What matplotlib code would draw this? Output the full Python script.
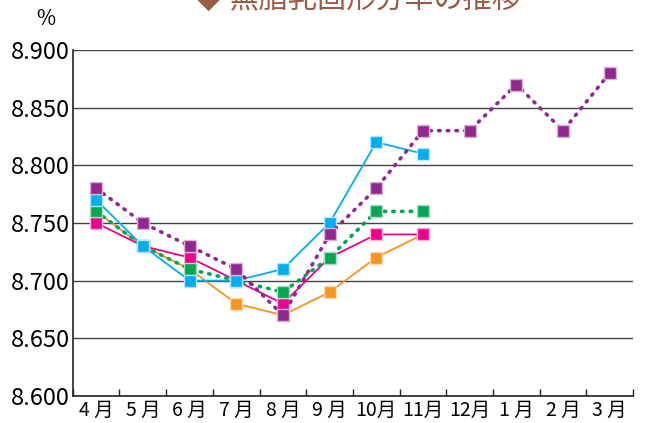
import matplotlib
matplotlib.use('Agg')
import matplotlib.pyplot as plt
import numpy as np

plt.rcParams['font.family'] = ['Liberation Sans Narrow', 'Noto Sans CJK JP', 'DejaVu Sans']

months = ['4 月', '5 月', '6 月', '7 月', '8 月', '9 月', '10月', '11月', '12月', '1 月', '2 月', '3 月']

purple = [8.78, 8.75, 8.73, 8.71, 8.67, 8.74, 8.78, 8.83, 8.83, 8.87, 8.83, 8.88]
cyan = [8.77, 8.73, 8.70, 8.70, 8.71, 8.75, 8.82, 8.81]
green = [8.76, 8.73, 8.71, 8.70, 8.69, 8.72, 8.76, 8.76]
magenta = [8.75, 8.73, 8.72, 8.70, 8.68, 8.72, 8.74, 8.74]
orange = [8.76, 8.73, 8.71, 8.68, 8.67, 8.69, 8.72, 8.74]

fig = plt.figure(figsize=(6.5, 4.23), dpi=100)
ax = fig.add_axes([0.112, 0.064, 0.862, 0.818])

x = np.arange(len(months))
dot = (0, (0.4, 2.0))

ax.plot(x[:len(orange)], orange, color='#F7941D', lw=1.3, marker='s', ms=9,
        mec='#FDD9B5', mew=1, zorder=3)
ax.plot(x[:len(magenta)], magenta, color='#EC008C', lw=1.3, marker='s', ms=9,
        mec='#F9B3D9', mew=1, zorder=4)
ax.plot(x[:len(green)], green, color='#00A651', lw=2.6, ls=dot, dash_capstyle='round',
        marker='s', ms=9, mec='#A8DDBF', mew=1, zorder=5)
ax.plot(x[:len(cyan)], cyan, color='#00AEEF', lw=1.3, marker='s', ms=9,
        mec='#B3E6FA', mew=1, zorder=6)
ax.plot(x, purple, color='#92278F', lw=2.6, ls=dot, dash_capstyle='round',
        marker='s', ms=9, mec='#D6B3D5', mew=1, zorder=7)

ax.set_xlim(-0.5, 11.5)
ax.set_ylim(8.6, 8.9)
ax.set_yticks(np.arange(8.6, 8.901, 0.05))
ax.set_yticklabels(['%.3f' % v for v in np.arange(8.6, 8.901, 0.05)], fontsize=17)
ax.set_xticks(x)
ax.set_xticklabels(months, fontsize=14)
ax.set_xticks(np.arange(-0.5, 11.6, 1), minor=True)
ax.tick_params(axis='x', which='major', length=0, pad=3)
ax.tick_params(axis='x', which='minor', direction='in', length=5, width=1, color='#222222')
ax.tick_params(axis='y', length=0, pad=2)

ax.grid(axis='y', color='#444444', lw=1)
ax.set_axisbelow(True)
for s in ['top', 'right']:
    ax.spines[s].set_visible(False)
for s in ['left', 'bottom']:
    ax.spines[s].set_color('#222222')
    ax.spines[s].set_linewidth(1.2)

fig.text(0.07, 0.955, '%', fontsize=15, ha='center', va='center')
fig.text(0.55, 1.0, '◆ 無脂乳固形分率の推移', fontsize=21, color='#9B5A43', ha='center', va='center',
         family=['Noto Sans CJK JP', 'DejaVu Sans'])

fig.savefig('out.png', dpi=100)
